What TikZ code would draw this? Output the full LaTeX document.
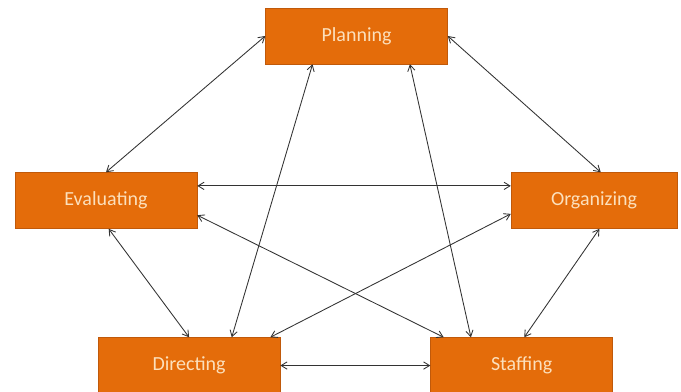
\documentclass[tikz,border=0pt]{standalone}
\usepackage{fontspec}
\setmainfont{Carlito}
\usetikzlibrary{arrows.meta, positioning}
\definecolor{boxorange}{HTML}{E46C0A}
\definecolor{boxedge}{HTML}{C0590A}
\definecolor{boxtext}{HTML}{FCE0BC}
\definecolor{linkgray}{HTML}{333333}

\begin{document}
\begin{tikzpicture}[
  every node/.style={font=\fontsize{15}{17}\selectfont, align=center},
  box/.style={draw=boxedge, fill=boxorange, text=boxtext, minimum width=136.5pt, minimum height=42pt, inner sep=3pt},
  link/.style={<->, >={Straight Barb[length=4.5pt,width=5.5pt]}, draw=linkgray, line width=0.65pt}
]
\useasboundingbox (0,0) rectangle (510.75pt,-294pt);

% Nodes
\node[box] (planning) at (267.4pt,-27pt) {Planning};
\node[box, below left=81pt and 51pt of planning] (evaluating) {Evaluating};
\node[box, minimum width=124.5pt, below right=81pt and 47.25pt of planning] (organizing) {Organizing};
\node[box, below=204.75pt of planning, xshift=-125.6pt] (directing) {Directing};
\node[box, right=112.5pt of directing] (staffing) {Staffing};

% Links
\draw[link] (planning.west) -- (evaluating.north);
\draw[link] (planning.east) -- ([xshift=5pt]organizing.north);
\draw[link] ([xshift=-33pt]planning.south) -- ([xshift=32pt]directing.north);
\draw[link] ([xshift=40pt]planning.south) -- ([xshift=-38pt]staffing.north);
\draw[link] ([yshift=11pt]evaluating.east) -- ([yshift=11pt]organizing.west);
\draw[link] ([yshift=-11pt]evaluating.east) -- ([xshift=10pt]staffing.north west);
\draw[link] ([xshift=2pt]evaluating.south) -- (directing.north);
\draw[link] ([yshift=-10pt]organizing.west) -- ([xshift=-7.5pt]directing.north east);
\draw[link] ([xshift=4pt]organizing.south) -- ([xshift=2pt]staffing.north);
\draw[link] (directing.east) -- (staffing.west);

\end{tikzpicture}
\end{document}
